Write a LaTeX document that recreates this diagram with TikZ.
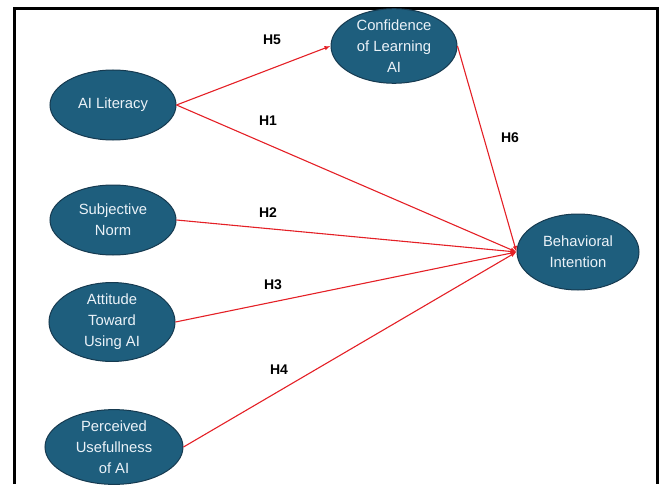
\documentclass[tikz,border=0pt]{standalone}
\usepackage{fontspec}
\setmainfont{Liberation Sans}
\usepackage{tikz}
\usetikzlibrary{arrows.meta, shapes.geometric}
\definecolor{nodeblue}{RGB}{30,94,125}
\definecolor{nodeedge}{RGB}{22,58,80}
\definecolor{linkred}{RGB}{228,32,38}
\definecolor{labelwhite}{RGB}{235,242,248}

\begin{document}
\begin{tikzpicture}[x=1pt, y=-1pt,
    every node/.style={font=\fontsize{14.8}{21}\selectfont},
    construct/.style={ellipse, draw=nodeedge, fill=nodeblue, text=labelwhite, align=center, inner sep=0pt, line width=1pt},
    hyp/.style={font=\fontsize{14}{17}\selectfont\bfseries},
    path/.style={-{Latex[length=6pt,width=4.5pt]}, linkred, line width=1.1pt}]
            \useasboundingbox (0,0) rectangle (663,484);
            \draw[line width=3pt] (14,484) -- (14,9) -- (657,9) -- (657,484);

            \node[construct, minimum width=126pt, minimum height=70pt] at (113,105) (lit) {AI Literacy};
            \node[construct, minimum width=126pt, minimum height=70pt] at (113,220) (sn) {Subjective\\Norm};
            \node[construct, minimum width=126pt, minimum height=70pt] at (112,322) (att) {Attitude\\Toward\\Using AI};
            \node[construct, minimum width=138pt, minimum height=70pt] at (114,447) (pu) {Perceived\\Usefullness\\of AI};
            \node[construct, minimum width=126pt, minimum height=72pt] at (394,46) (conf) {Confidence\\of Learning\\AI};
            \node[construct, minimum width=122pt, minimum height=76pt] at (578,252) (bi) {Behavioral\\Intention};

            \draw [path] (lit.east) -- (conf.west);
            \draw [path] (lit.east) -- (bi.west);
            \draw [path] (sn.east) -- (bi.west);
            \draw [path] (att.east) -- (bi.west);
            \draw [path] (pu.east) -- (bi.west);
            \draw [path] (conf.east) -- (bi.west);

            \node[hyp] at (272,40)  (h5) {H5};
            \node[hyp] at (268,121) (h1) {H1};
            \node[hyp] at (268,213) (h2) {H2};
            \node[hyp] at (273,285) (h3) {H3};
            \node[hyp] at (279,370) (h4) {H4};
            \node[hyp] at (510,138) (h6) {H6};
        \end{tikzpicture}
\end{document}
